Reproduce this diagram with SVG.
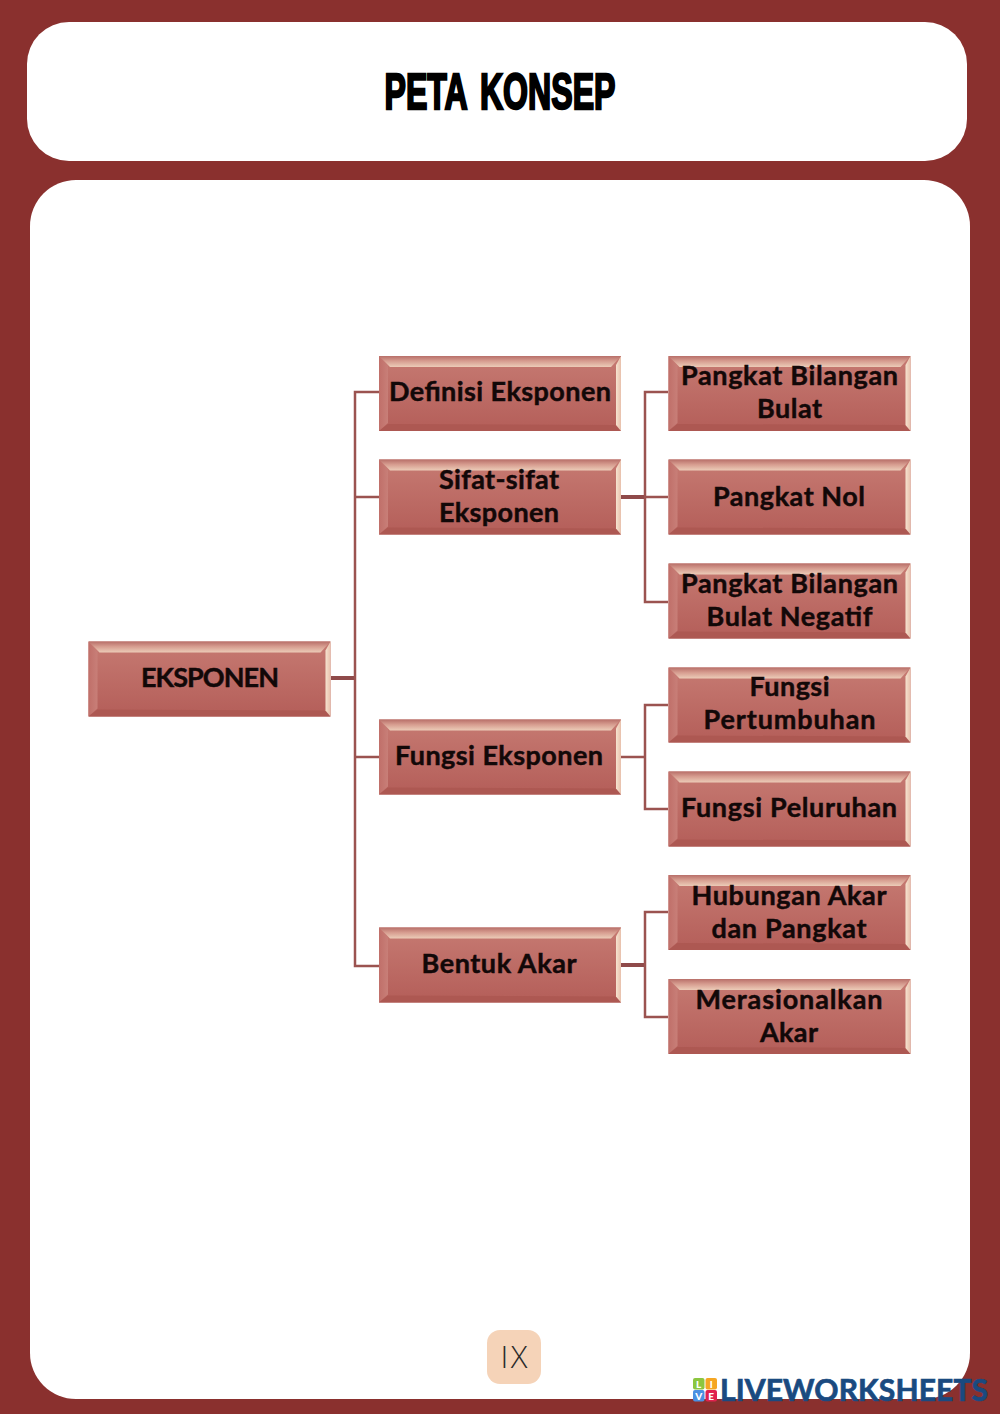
<svg xmlns="http://www.w3.org/2000/svg" width="1000" height="1414" viewBox="0 0 1000 1414">
<style>
.face{fill:url(#face)}
.top{fill:url(#top)}
.right{fill:url(#right)}
.bottom{fill:#ad5852}
.left{fill:url(#left)}
.t{font-family:"Lato","Open Sans","Liberation Sans",sans-serif;font-weight:700;font-size:27px;fill:#120808;text-anchor:middle;stroke:#120808;stroke-width:.45px}
.c{fill:none;stroke:#9b5350;stroke-width:2.5}
.s{fill:none;stroke:#8f4a4a;stroke-width:4}
.tile{font-family:"Lato","Liberation Sans",sans-serif;font-weight:900;font-size:10px;fill:#fff;text-anchor:middle}
</style>
<defs>
<linearGradient id="face" x1="0" y1="0" x2="0" y2="1"><stop offset="0" stop-color="#c67a72"/><stop offset="1" stop-color="#b45e59"/></linearGradient>
<linearGradient id="top" x1="0" y1="0" x2="0" y2="1"><stop offset="0" stop-color="#b86f69"/><stop offset=".45" stop-color="#d69c8f"/><stop offset="1" stop-color="#ecccb8"/></linearGradient>
<linearGradient id="right" x1="0" y1="0" x2="1" y2="0"><stop offset="0" stop-color="#f6e3cf"/><stop offset="1" stop-color="#e8c0ac"/></linearGradient>
<linearGradient id="left" x1="0" y1="0" x2="1" y2="0"><stop offset="0" stop-color="#c06f69"/><stop offset="1" stop-color="#c87f78"/></linearGradient>
<g id="box">
<rect class="face" width="242" height="75"/>
<polygon class="left" points="0,0 9,10 9,67 0,75"/>
<polygon class="bottom" points="0,75 9,68 236,69 242,75"/>
<polygon class="right" points="242,0 242,75 237,69 237,9"/>
<polygon class="top" points="0,0 242,0 232,11 11,11"/>
</g>
</defs>
<rect width="1000" height="1414" fill="#8a302e"/>
<rect id="title-panel" x="27" y="22" width="940" height="139" rx="42" fill="#fff"/>
<rect id="main-panel" x="30" y="180" width="940" height="1219" rx="46" fill="#fff"/>
<text x="500" y="109" font-family="'Liberation Sans Narrow','Liberation Sans',sans-serif" font-weight="700" font-size="50" fill="#000" stroke="#000" stroke-width="2.400" text-anchor="middle" word-spacing="7" textLength="231" lengthAdjust="spacingAndGlyphs">PETA KONSEP</text>

<g id="connectors">
<path class="s" d="M331 678H355"/>
<path class="c" d="M379 392H355V966H379M355 497H379M355 757H379"/>
<path class="s" d="M621 497H645"/>
<path class="c" d="M668 392H645V602H668M645 497H668"/>
<path class="c" d="M621 757H645M668 705H645V809H668"/>
<path class="s" d="M621 965H645"/>
<path class="c" d="M668 912H645V1017H668"/>
</g>

<g id="n-eksponen"><use href="#box" x="88.500" y="641.500"/><text class="t" x="210" y="687" textLength="138">EKSPONEN</text></g>
<g id="n-definisi"><use href="#box" x="379" y="356"/><text class="t" x="500" y="401" textLength="222">Definisi Eksponen</text></g>
<g id="n-sifat"><use href="#box" x="379" y="459.500"/><text class="t" x="499" y="489" textLength="120">Sifat-sifat</text><text class="t" x="499" y="522" textLength="120">Eksponen</text></g>
<g id="n-fungsi"><use href="#box" x="379" y="719.500"/><text class="t" x="499" y="765" textLength="208">Fungsi Eksponen</text></g>
<g id="n-akar"><use href="#box" x="379" y="927.500"/><text class="t" x="499" y="973" textLength="155">Bentuk Akar</text></g>

<g id="n-bulat"><use href="#box" x="668.500" y="356"/><text class="t" x="789.500" y="385" textLength="217">Pangkat Bilangan</text><text class="t" x="789.500" y="418" textLength="65">Bulat</text></g>
<g id="n-nol"><use href="#box" x="668.500" y="459.500"/><text class="t" x="789" y="506" textLength="152">Pangkat Nol</text></g>
<g id="n-negatif"><use href="#box" x="668.500" y="563.500"/><text class="t" x="789.500" y="593" textLength="217">Pangkat Bilangan</text><text class="t" x="789.500" y="626" textLength="166">Bulat Negatif</text></g>
<g id="n-pertumbuhan"><use href="#box" x="668.500" y="667.500"/><text class="t" x="789.500" y="696" textLength="80">Fungsi</text><text class="t" x="789.500" y="729" textLength="172">Pertumbuhan</text></g>
<g id="n-peluruhan"><use href="#box" x="668.500" y="771.500"/><text class="t" x="789" y="817" textLength="216">Fungsi Peluruhan</text></g>
<g id="n-hubungan"><use href="#box" x="668.500" y="875"/><text class="t" x="789" y="905" textLength="195">Hubungan Akar</text><text class="t" x="789" y="938" textLength="155">dan Pangkat</text></g>
<g id="n-merasional"><use href="#box" x="668.500" y="979"/><text class="t" x="789" y="1009" textLength="187">Merasionalkan</text><text class="t" x="789" y="1042" textLength="58">Akar</text></g>

<g id="page-number">
<rect x="487" y="1330" width="54" height="54" rx="13" fill="#f5d3b8"/>
<text x="514" y="1368" font-family="'Open Sans','Liberation Sans',sans-serif" font-weight="300" font-size="31" fill="#2b2b2b" text-anchor="middle" textLength="27">IX</text>
</g>

<g id="watermark">
<rect x="693" y="1378" width="11.500" height="11.500" rx="2" fill="#8cc63f"/>
<rect x="705.500" y="1378" width="11.500" height="11.500" rx="2" fill="#f5a623"/>
<rect x="693" y="1390" width="11.500" height="11.500" rx="2" fill="#4a90e2"/>
<rect x="705.500" y="1390" width="11.500" height="11.500" rx="2" fill="#e0224e"/>
<text class="tile" x="698.700" y="1388">L</text>
<text class="tile" x="711.200" y="1388">I</text>
<text class="tile" x="698.700" y="1400">V</text>
<text class="tile" x="711.200" y="1400">E</text>
<text x="720" y="1401" font-family="Lato,'Liberation Sans',sans-serif" font-weight="700" font-size="30" fill="#1a4a80" stroke="#1a4a80" stroke-width=".7" textLength="268">LIVEWORKSHEETS</text>
</g>
</svg>
